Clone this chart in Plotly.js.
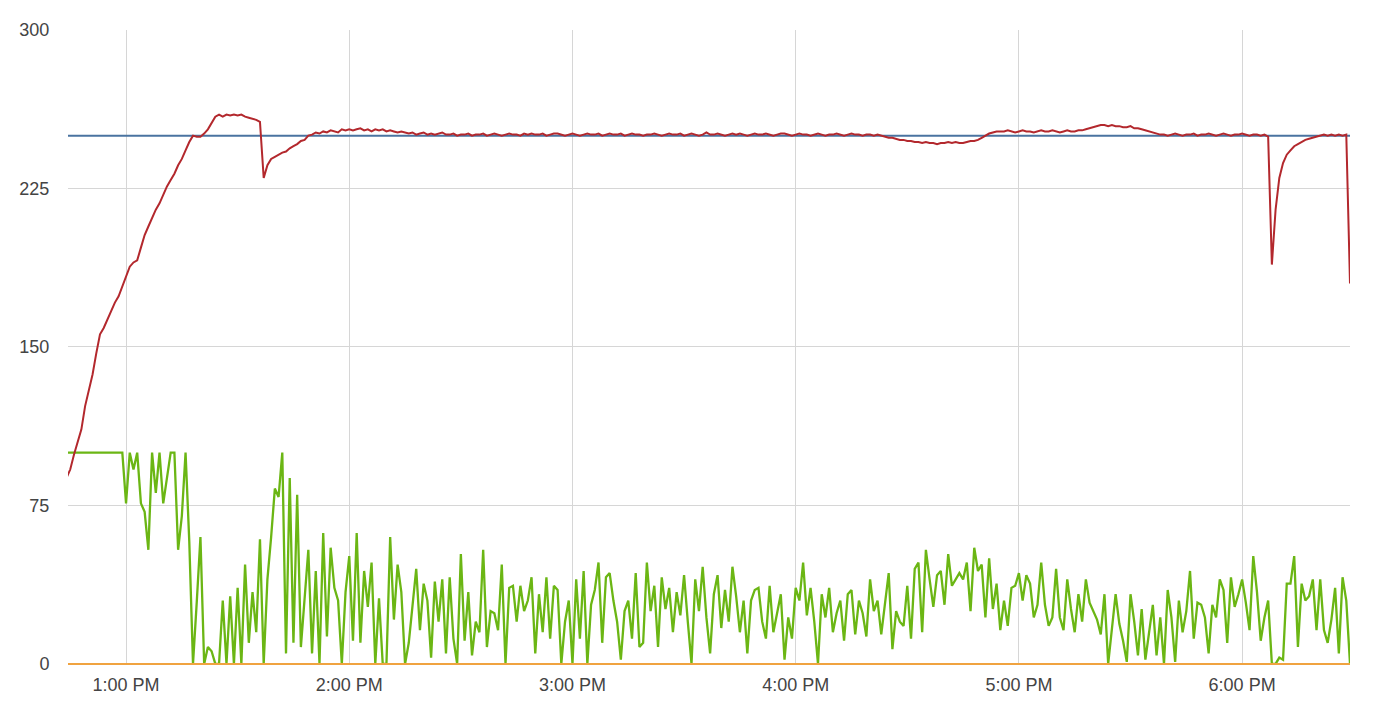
<!DOCTYPE html>
<html>
<head>
<meta charset="utf-8">
<script src="https://cdn.plot.ly/plotly-3.0.1.min.js"></script>
<style>
html,body{margin:0;padding:0;background:#fff;}
#chart{width:1376px;height:701px;}
</style>
</head>
<body>
<div id="chart"></div>
<script>
// ---- data (one sample per minute, starting 12:44 PM) ----
const startDate = '2024-05-01';
const startMinute = 12 * 60 + 44;
const setpoint = 250;
const baseline = 0;
const yTicks = [0, 75, 150, 225, 300];

const temperature = [
  88, 92, 99, 105, 111, 122, 129, 137, 147, 156, 159, 163, 167, 171, 174, 179,
  184, 188, 190, 191, 197, 203, 207, 211, 215, 218, 222, 226, 229, 232, 236, 239, 243, 247, 250, 249.5,
  249.5, 251, 253, 256, 259, 260, 259, 260, 259.5, 260, 259.5, 260, 259, 258.5, 258, 257.5, 256.5, 230, 236, 239,
  240, 241, 242, 242.5, 244, 245, 246, 247.5, 248, 250, 250.5, 251.5, 251, 252, 251.5, 252.5, 252, 251.5, 253, 252.5,
  253, 252.5, 253, 253.5, 252.5, 253, 252, 253, 252.5, 253, 252, 252.5, 252, 251.5, 252,
  251.5, 251, 251.5, 250.5, 251, 251.5, 250.5, 251, 250.5, 251, 251.5, 250.5, 250.5, 251, 250, 250.5,
  250.5, 251, 250, 250.5, 250.5, 251, 250, 250.5, 251, 250.5, 250, 250.5, 251, 250.5, 250.5, 250, 251, 250.5, 251, 250.5,
  250.5, 251, 250, 250.5, 251, 251, 250.5, 250, 250.5, 251, 250.5, 250, 250.5, 251, 250.5, 250.5, 251, 250, 250.5, 251,
  250.5, 250.5, 251, 250, 250.5, 251, 250.5, 250.5, 250, 250.5,
  250.5, 251, 250.5, 250, 250.5, 251, 250.5, 250.5, 251, 250, 250.5, 251, 250.5, 250, 250.5, 251.5, 250.5, 250.5, 251, 250.5,
  250, 250.5, 251, 250.5, 251, 250.5, 250, 250.5, 251, 250.5, 250.5, 251, 250.5, 250, 250.5, 251, 251, 250.5, 250, 250.5,
  251, 250.5, 250.5, 250, 250.5, 251, 250.5, 250, 250.5, 250.5, 251, 250.5, 250, 250.5, 251, 250.5, 250.5, 250, 250.5, 250.5,
  250, 250.5,
  250, 249.5, 249, 249, 248.5, 248, 248, 247.5, 247.5, 247, 247, 246.5, 247, 246.5, 246.5, 246, 246.5, 246.5, 247, 246.5,
  247, 246.5, 246.5, 247, 247.5, 247.5, 248, 249, 250, 251, 251.5, 252, 252,
  252, 252.5, 252, 251.5, 252, 252.5, 252, 252, 251.5, 252, 252.5, 252, 252, 252.5, 252, 251.5, 252, 252.5, 252, 252, 252.5,
  252.5, 253, 253.5, 254, 254.5, 255, 255, 254.5, 255, 254.5, 254.5, 254, 254, 254.5, 253.5, 253.5, 253, 252.5, 252, 251.5, 251, 250.5,
  250.5, 250, 250.5, 251, 250.5, 250, 250.5, 250.5, 251, 250, 250.5, 250.5, 251, 250.5, 250, 250.5, 251, 250.5, 250, 250.5,
  250.5, 251, 250.5, 250, 250.5, 250.5, 250, 250.5, 249.5,
  189, 215, 230, 237, 241, 243, 245, 246, 247, 248, 248.5, 249, 249.5, 250, 250.5, 250, 250.5, 250, 250.5, 250, 250.5, 180
];

const output = [
  100, 100, 100, 100, 100, 100, 100, 100, 100, 100, 100, 100, 100, 100, 100, 100,
  76, 100, 92, 100, 76, 72, 54, 100, 81, 100,
  76, 88, 100, 100, 54, 70, 100, 58, 0, 29,
  60, 0, 8, 6, 0, 0, 30, 0, 32, 0,
  36, 0, 47, 10, 34, 15, 59, 0, 40, 60,
  83, 79, 100, 5, 88, 10, 80, 8, 32, 54,
  5, 44, 0, 62, 13, 55, 36, 30, 0, 34,
  51, 11, 62, 10, 44, 27, 48, 0, 31, 0,
  0, 60, 21, 47, 34, 0, 10, 28, 45, 16,
  38, 30, 3, 39, 20, 40, 5, 41, 12, 0,
  52, 11, 34, 4, 20, 15, 54, 8, 25, 24,
  16, 47, 0, 36, 37, 20, 37, 25, 30, 41,
  5, 33, 15, 41, 12, 37, 35, 0, 20, 30,
  0, 40, 12, 44, 0, 28, 35, 48, 10, 41,
  43, 30, 20, 2, 25, 30, 12, 43, 8, 10,
  48, 25, 37, 8, 41, 26, 36, 15, 34, 23,
  42, 20, 0, 40, 25, 46, 22, 5, 33, 42,
  17, 35, 20, 46, 32, 15, 30, 5, 30, 35,
  36, 20, 12, 37, 15, 24, 33, 2, 22, 12,
  36, 30, 48, 23, 36, 20, 0, 33, 22, 36,
  15, 24, 30, 11, 33, 35, 14, 30, 24, 13,
  40, 25, 30, 14, 28, 43, 7, 25, 20, 18,
  37, 12, 45, 48, 15, 54, 40, 27, 42, 44,
  28, 52, 37, 40, 43, 40, 48, 25, 55, 44,
  47, 22, 50, 26, 38, 16, 30, 18, 36, 37,
  43, 30, 42, 38, 22, 28, 48, 28, 18, 22,
  45, 22, 16, 40, 26, 15, 33, 20, 40, 29,
  25, 21, 14, 33, 0, 16, 33, 19, 11, 1,
  33, 20, 4, 26, 2, 15, 28, 4, 22, 0,
  35, 22, 1, 30, 15, 25, 44, 12, 29, 28,
  22, 5, 28, 22, 40, 35, 10, 41, 27, 33,
  40, 29, 16, 51, 34, 11, 22, 30, 0, 0,
  3, 2, 38, 38, 51, 8, 38, 30, 32, 40,
  16, 40, 16, 10, 21, 36, 5, 41, 30, 0
];

function timeLabel(i) {
  const m = startMinute + i;
  const h = Math.floor(m / 60);
  const mm = m % 60;
  return startDate + ' ' + String(h).padStart(2, '0') + ':' + String(mm).padStart(2, '0') + ':00';
}
const times = temperature.map((_, i) => timeLabel(i));

const font = { family: 'Liberation Sans, Arial, sans-serif', size: 18, color: '#444' };

const traces = [
  { x: times, y: times.map(() => setpoint), type: 'scatter', mode: 'lines',
    line: { color: '#4a73a0', width: 2 }, hoverinfo: 'skip' },
  { x: times, y: output, type: 'scatter', mode: 'lines',
    line: { color: '#6bb614', width: 2.3 }, hoverinfo: 'skip' },
  { x: times, y: temperature, type: 'scatter', mode: 'lines',
    line: { color: '#b3282d', width: 2 }, hoverinfo: 'skip' },
  { x: times, y: times.map(() => baseline), type: 'scatter', mode: 'lines',
    line: { color: '#f0a340', width: 2 }, hoverinfo: 'skip' }
];

const layout = {
  width: 1376, height: 701,
  margin: { l: 68, r: 26, t: 30, b: 36 },
  paper_bgcolor: '#fff', plot_bgcolor: '#fff',
  showlegend: false,
  xaxis: {
    type: 'date',
    range: [startDate + ' 12:44:24', startDate + ' 18:29:00'],
    tick0: startDate + ' 13:00:00',
    dtick: 3600000,
    tickformat: '%-I:%M %p',
    showgrid: true, gridcolor: '#d6d6d6', gridwidth: 1,
    zeroline: false, showline: false,
    ticks: 'outside', ticklen: 3, tickcolor: 'rgba(0,0,0,0)',
    tickfont: font
  },
  yaxis: {
    range: [-0.5, 300],
    tickvals: yTicks,
    ticktext: yTicks.map(String),
    showgrid: true, gridcolor: '#d6d6d6', gridwidth: 1,
    zeroline: false, showline: false,
    ticks: 'outside', ticklen: 14, tickcolor: 'rgba(0,0,0,0)',
    tickfont: font
  }
};

Plotly.newPlot('chart', traces, layout, { displayModeBar: false, staticPlot: true });
</script>
</body>
</html>
